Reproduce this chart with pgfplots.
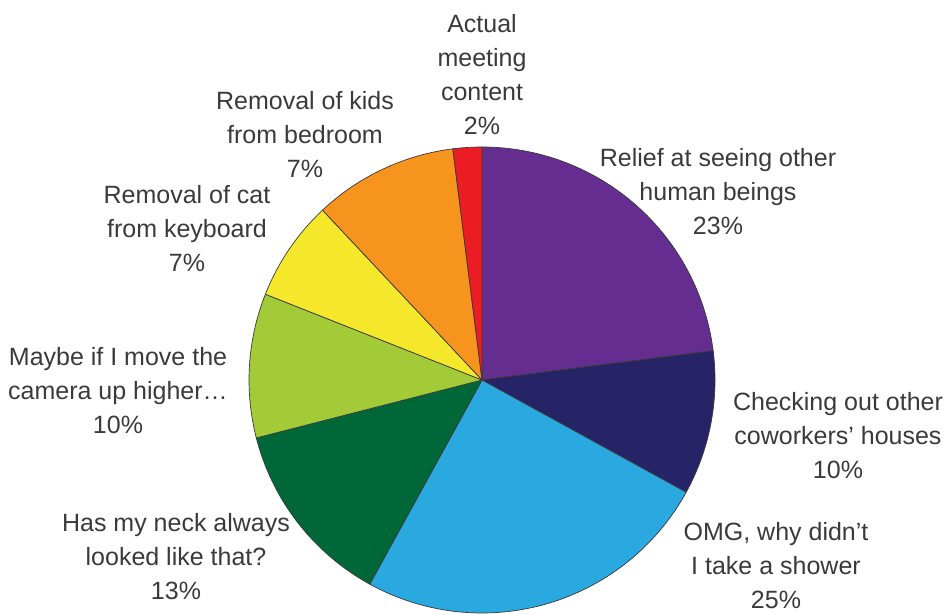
\documentclass[border=0pt]{standalone}
\usepackage{pgfplots}
\pgfplotsset{compat=1.18}
\usepackage{fontspec}
\setmainfont{Liberation Sans}
\definecolor{cRelief}{HTML}{662D91}
\definecolor{cCheck}{HTML}{262466}
\definecolor{cOMG}{HTML}{29A9E0}
\definecolor{cNeck}{HTML}{006838}
\definecolor{cMaybe}{HTML}{A3CB38}
\definecolor{cCat}{HTML}{F5E82B}
\definecolor{cKids}{HTML}{F7941E}
\definecolor{cActual}{HTML}{EC1C24}
\definecolor{edge}{HTML}{3A3A3A}
\definecolor{txt}{HTML}{3A3A3A}
% slice shares as drawn (percent), clockwise from 12 o'clock
\pgfmathsetmacro\aA{90}
\pgfmathsetmacro\aB{\aA-3.6*23}   % Relief at seeing other human beings
\pgfmathsetmacro\aC{\aB-3.6*10}   % Checking out other coworkers' houses
\pgfmathsetmacro\aD{\aC-3.6*25}   % OMG
\pgfmathsetmacro\aE{\aD-3.6*13}   % Has my neck
\pgfmathsetmacro\aF{\aE-3.6*10}   % Maybe if I move
\pgfmathsetmacro\aG{\aF-3.6*7}    % Removal of cat
\pgfmathsetmacro\aH{\aG-3.6*10}   % Removal of kids
\pgfmathsetmacro\aI{\aH-3.6*2}    % Actual meeting content
\begin{document}
\begin{tikzpicture}
\begin{axis}[width=948bp, height=615bp, scale only axis, hide axis,
  xmin=0, xmax=948, ymin=0, ymax=615, clip=false,
  every axis plot/.append style={draw=edge, line width=0.7bp, samples=80, variable=\t},
  nodes={font=\fontsize{25bp}{34bp}\selectfont, text=txt, align=center, inner sep=0pt}]
\path (axis cs:0,0) rectangle (axis cs:948,615);
\addplot[fill=cRelief, domain=\aB:\aA] ({482+233*cos(\t)},{235+233*sin(\t)}) -- (axis cs:482,235) -- cycle;
\addplot[fill=cCheck, domain=\aC:\aB] ({482+233*cos(\t)},{235+233*sin(\t)}) -- (axis cs:482,235) -- cycle;
\addplot[fill=cOMG, domain=\aD:\aC] ({482+233*cos(\t)},{235+233*sin(\t)}) -- (axis cs:482,235) -- cycle;
\addplot[fill=cNeck, domain=\aE:\aD] ({482+233*cos(\t)},{235+233*sin(\t)}) -- (axis cs:482,235) -- cycle;
\addplot[fill=cMaybe, domain=\aF:\aE] ({482+233*cos(\t)},{235+233*sin(\t)}) -- (axis cs:482,235) -- cycle;
\addplot[fill=cCat, domain=\aG:\aF] ({482+233*cos(\t)},{235+233*sin(\t)}) -- (axis cs:482,235) -- cycle;
\addplot[fill=cKids, domain=\aH:\aG] ({482+233*cos(\t)},{235+233*sin(\t)}) -- (axis cs:482,235) -- cycle;
\addplot[fill=cActual, domain=\aI:\aH] ({482+233*cos(\t)},{235+233*sin(\t)}) -- (axis cs:482,235) -- cycle;
\node at (axis cs:482,540) {Actual\\meeting\\content\\2\%};
\node at (axis cs:305,480) {Removal of kids\\from bedroom\\7\%};
\node at (axis cs:187,386) {Removal of cat\\from keyboard\\7\%};
\node at (axis cs:718,423) {Relief at seeing other\\human beings\\23\%};
\node at (axis cs:118,224) {Maybe if I move the\\camera up higher…\\10\%};
\node at (axis cs:838,179) {Checking out other\\coworkers’ houses\\10\%};
\node at (axis cs:176,58) {Has my neck always\\looked like that?\\13\%};
\node at (axis cs:776,49) {OMG, why didn’t\\I take a shower\\25\%};
\end{axis}
\end{tikzpicture}
\end{document}
